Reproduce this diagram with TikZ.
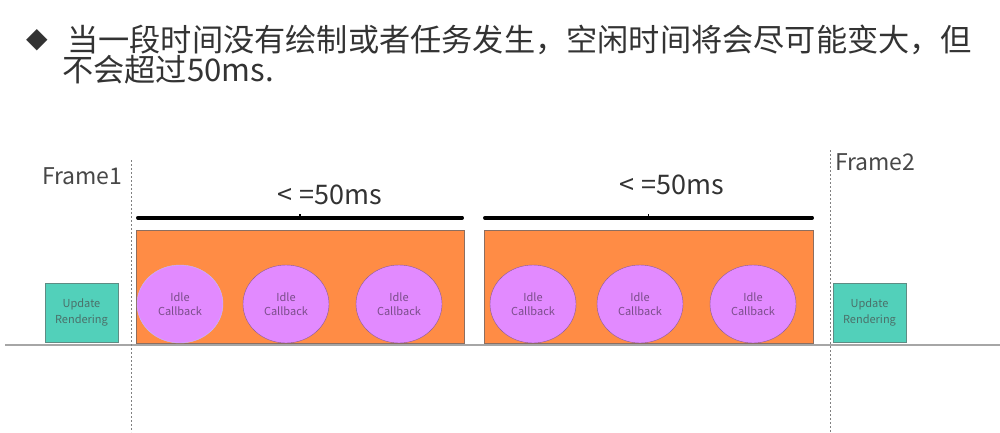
\documentclass[tikz,border=0pt]{standalone}
\usepackage{fontspec}
\setmainfont{Noto Sans CJK SC}
\newfontfamily\symfont{DejaVu Sans}
\usetikzlibrary{shapes.geometric}

\definecolor{chunkfill}{HTML}{FF8C45}
\definecolor{chunkline}{HTML}{8C6E60}
\definecolor{updfill}{HTML}{52D0BA}
\definecolor{updline}{HTML}{5E8C84}
\definecolor{idlefill}{HTML}{E28AFF}
\definecolor{idleline}{HTML}{8A5C98}
\definecolor{idletext}{HTML}{7A4D8A}
\definecolor{titletext}{HTML}{333333}

\tikzset{
	updatebox/.style = {draw=updline, fill=updfill, minimum width=73, minimum height=59,
		inner sep=0, align=center, text=updline!80!black, font=\fontsize{11}{16.5}\selectfont},
	chunk/.style     = {draw=chunkline, fill=chunkfill, minimum height=113, inner sep=0},
	idlecb/.style    = {ellipse, draw=idleline, fill=idlefill, minimum width=86, minimum height=78,
		inner sep=0, align=center, text=idletext, font=\fontsize{11}{14.5}\selectfont},
	brace/.style     = {line width=3.5, line cap=round},
	limit/.style     = {font=\fontsize{27}{30}\selectfont, text=titletext},
	framelbl/.style  = {font=\fontsize{23}{26}\selectfont, text=titletext!90},
	framesep/.style  = {gray, line width=0.9, dash pattern=on 2pt off 2pt},
}

\begin{document}
\begin{tikzpicture}[x=1pt, y=-1pt]
		\useasboundingbox (0,0) rectangle (1000,432);
		% title
		\node (bullet) at (37,40) [font=\symfont\fontsize{28}{30}\selectfont, text=titletext] {◆};
		\node (line1) at (67,51) [anchor=base west, inner sep=0, font=\fontsize{31.2}{34}\selectfont, text=titletext]
		{当一段时间没有绘制或者任务发生，空闲时间将会尽可能变大，但};
		\node (line2) at (62,81) [anchor=base west, inner sep=0, font=\fontsize{31.2}{34}\selectfont, text=titletext]
		{不会超过50ms.};
		% time axis and frame borders
		\coordinate (axisl) at (5,345);
		\coordinate (axisr) at (1000,345);
		\draw[gray!70, line width=1.2] (axisl) -- (axisr);
		\coordinate (f1top) at (131,160);
		\coordinate (f1bot) at (131,432);
		\coordinate (f2top) at (830,150);
		\coordinate (f2bot) at (830,432);
		\draw[framesep] (f1top) -- (f1bot);
		\draw[framesep] (f2top) -- (f2bot);
		\node (frame1) at (42,176) [anchor=west, inner sep=0, framelbl] {Frame1};
		\node (frame2) at (835,162) [anchor=west, inner sep=0, framelbl] {Frame2};
		% update rendering
		\node (upd1) at (81.5,312.5) [updatebox] {Update\\Rendering};
		\node (upd2) at (869.5,312.5) [updatebox] {Update\\Rendering};
		% idle periods
		\node (chunk1) at (300,286.5) [chunk, minimum width=328] {};
		\node (chunk2) at (648.5,286.5) [chunk, minimum width=329] {};
		\node (idle1) at (180,304) [idlecb, draw=blue!25!white] {Idle\\Callback};
		\node (idle2) at (286,304) [idlecb] {Idle\\Callback};
		\node (idle3) at (399,304) [idlecb] {Idle\\Callback};
		\node (idle4) at (533,304) [idlecb] {Idle\\Callback};
		\node (idle5) at (640,304) [idlecb] {Idle\\Callback};
		\node (idle6) at (753,304) [idlecb] {Idle\\Callback};
		% brackets
		\draw[brace] ([shift={(2,-12)}]chunk1.north west) -- ([shift={(-2,-12)}]chunk1.north east);
		\draw[line width=1.2] ([shift={(0,-12)}]chunk1.north) -- ++(0,-4);
		\draw[brace] ([shift={(1,-12)}]chunk2.north west) -- ([shift={(-1,-12)}]chunk2.north east);
		\draw[line width=1.2] ([shift={(0,-12)}]chunk2.north) -- ++(0,-4);
		\node (lim1) at (330,195) [limit] {<\;=50ms};
		\node (lim2) at (672,185) [limit] {<\;=50ms};
		\end{tikzpicture}
\end{document}
